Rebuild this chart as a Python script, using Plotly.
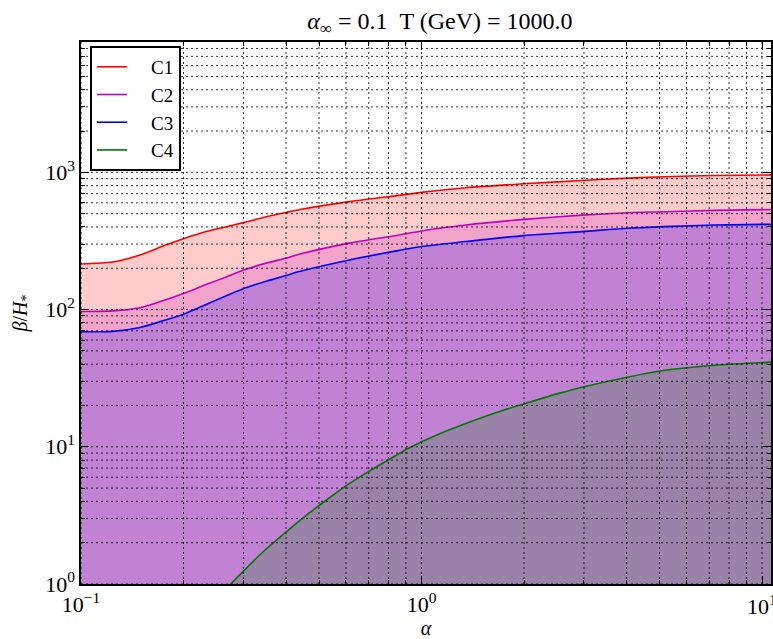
import plotly.graph_objects as go

# ---- data ----
alpha_c1 = [0.10, 0.124, 0.149, 0.174, 0.20, 0.233, 0.267, 0.302, 0.35, 0.40, 0.44, 0.614,
            0.86, 1.0, 1.35, 2.0, 2.96, 4.05, 5.19, 7.27, 10.7]
beta_c1 = [215, 222, 250, 290, 328, 370, 402, 432, 474, 510, 536, 612,
           680, 715, 773, 826, 873, 908, 929, 949, 959]

alpha_c2 = alpha_c1
beta_c2 = [96.8, 97.9, 103, 116, 131, 152, 173, 195, 218, 237, 254, 305,
           350, 374, 413, 454, 488, 508, 516, 528, 536]

alpha_c3 = alpha_c1
beta_c3 = [69, 69.4, 74.1, 82.9, 92.5, 109, 126, 143, 161, 177, 190, 230,
           270, 288, 313, 346, 370, 391, 402, 413, 418]

alpha_c4 = [0.275, 0.299, 0.342, 0.40, 0.448, 0.513, 0.60, 0.702, 0.803, 0.919, 1.10,
            1.38, 1.72, 2.02, 2.53, 2.96, 4.05, 5.19, 7.26, 10.7]
beta_c4 = [1.0, 1.23, 1.71, 2.39, 3.02, 3.91, 5.19, 6.65, 8.08, 9.8, 12.1,
           15.1, 18.3, 20.7, 24.5, 27.2, 32.3, 36.1, 39.3, 41.4]

names = ["C1", "C2", "C3", "C4"]
line_colors = ["#ff0000", "#bf00bf", "#0000ff", "#007a00"]
fill_colors = ["rgba(255,0,0,0.2)", "rgba(191,0,191,0.2)", "rgba(0,0,255,0.2)", "rgba(0,128,0,0.2)"]

x_tick_vals = [0.1, 1, 10]
x_tick_text = ["10<sup>−1</sup>", "10<sup>0</sup>", "10<sup>1</sup>"]
y_tick_vals = [1, 10, 100, 1000]
y_tick_text = ["10<sup>0</sup>", "10<sup>1</sup>", "10<sup>2</sup>", "10<sup>3</sup>"]

X_RANGE = [-1, 1.0264]
Y_RANGE = [0, 3.95]
BASE = 0.5

series = [(alpha_c1, beta_c1), (alpha_c2, beta_c2), (alpha_c3, beta_c3), (alpha_c4, beta_c4)]

fig = go.Figure()
for (xs, ys), nm, lc, fc in zip(series, names, line_colors, fill_colors):
    fig.add_trace(go.Scatter(x=xs, y=[BASE] * len(xs), mode="lines",
                             line=dict(width=0, color=fc), showlegend=False, hoverinfo="skip"))
    fig.add_trace(go.Scatter(x=xs, y=ys, mode="lines", fill="tonexty", fillcolor=fc,
                             line=dict(color=lc, width=1.6, shape="spline", smoothing=0.8),
                             showlegend=False, name=nm))

# grid (dotted, drawn above fills as in the reference)
grid_x = [d * m for d in (0.1, 1) for m in range(1, 10)] + [10]
grid_y = [d * m for d in (1, 10, 100, 1000) for m in range(1, 10) if d * m < 10 ** Y_RANGE[1]]
gx, gy = [], []
for g in grid_x:
    gx += [g, g, None]
    gy += [1, 10 ** Y_RANGE[1], None]
for g in grid_y:
    gx += [0.1, 10 ** X_RANGE[1], None]
    gy += [g, g, None]
fig.add_trace(go.Scatter(x=gx, y=gy, mode="lines", showlegend=False, hoverinfo="skip",
                         line=dict(color="rgba(0,0,0,0.8)", width=1, dash="2px,3px")))

# legend entries
for nm, lc in zip(names, line_colors):
    fig.add_trace(go.Scatter(x=[None], y=[None], mode="lines", name="\u2002\u2002" + nm,
                             line=dict(color=lc, width=1.6)))

font_family = "Liberation Serif"
minor_x = [v for v in grid_x if v not in x_tick_vals]
minor_y = [v for v in grid_y if v not in y_tick_vals]

PLOT_W = 773 - 81
fig.update_layout(
    width=773, height=639,
    margin=dict(l=81, r=0, t=42, b=50),
    paper_bgcolor="white", plot_bgcolor="white",
    font=dict(family=font_family, size=19, color="black"),
    title=dict(text="<i>α</i><sub>∞</sub> = 0.1  T (GeV) = 1000.0",
               x=0.5 + 14 / PLOT_W, xref="paper", xanchor="center", y=1 - 21 / 639, yanchor="middle",
               font=dict(size=24, family=font_family)),
    xaxis=dict(type="log", range=X_RANGE, tickmode="array", tickvals=x_tick_vals,
               ticktext=x_tick_text, ticks="inside", ticklen=8, tickwidth=1, tickcolor="black",
               showline=True, linecolor="black", linewidth=1.5, mirror="allticks",
               showgrid=False, zeroline=False, tickfont=dict(size=22),
               minor=dict(tickmode="array", tickvals=minor_x, ticks="inside", ticklen=4,
                          tickcolor="black", showgrid=False),
               title=dict(text="<i>α</i>", standoff=8, font=dict(size=20))),
    yaxis=dict(type="log", range=Y_RANGE, tickmode="array", tickvals=y_tick_vals,
               ticktext=y_tick_text, ticks="inside", ticklen=8, tickwidth=1, tickcolor="black",
               showline=True, linecolor="black", linewidth=1.5, mirror="allticks",
               showgrid=False, zeroline=False, tickfont=dict(size=22),
               minor=dict(tickmode="array", tickvals=minor_y, ticks="inside", ticklen=4,
                          tickcolor="black", showgrid=False),
               title=dict(text="<i>β</i>/<i>H</i><sub>*</sub>", standoff=12, font=dict(size=20))),
    legend=dict(x=(90 - 81) / PLOT_W, y=1 - (46 - 42) / 547, xanchor="left", yanchor="top",
                bgcolor="white", bordercolor="black", borderwidth=2, traceorder="normal",
                font=dict(size=19, family=font_family), tracegroupgap=0),
    showlegend=True,
    annotations=[dict(text="10<sup>1</sup>", xref="paper", yref="paper",
                      x=(764 - 81) / PLOT_W, y=0, yshift=-5, xanchor="center", yanchor="top",
                      showarrow=False, font=dict(size=22, family=font_family))],
)

fig.write_html("out.html")
